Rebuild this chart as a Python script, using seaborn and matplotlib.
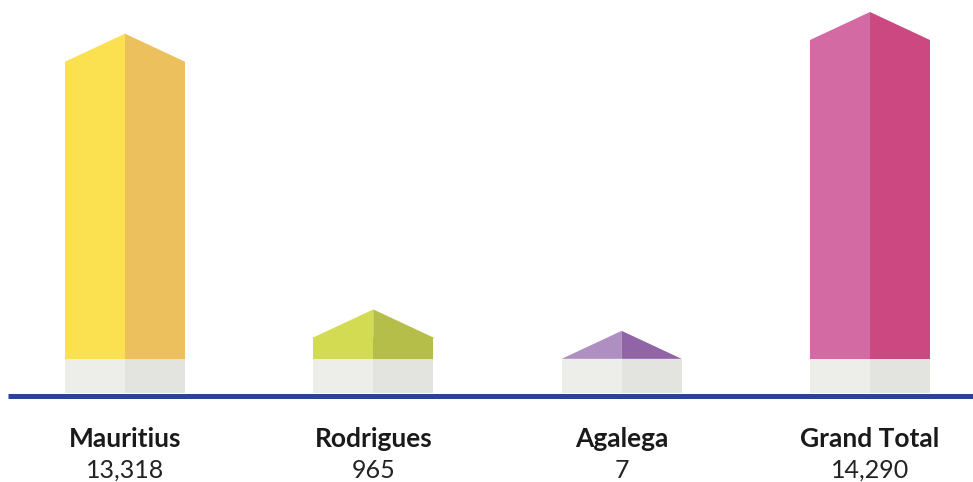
import matplotlib
matplotlib.use("Agg")
import matplotlib.pyplot as plt
from matplotlib.patches import Polygon
import pandas as pd
import seaborn as sns

# data
islands = ["Mauritius", "Rodrigues", "Agalega", "Grand Total"]
population = [13318, 965, 7, 14290]
value_labels = ["13,318", "965", "7", "14,290"]

# colours (left face lighter, right face darker)
light_colors = ["#FBE150", "#D3DB52", "#AF8EC2", "#D46AA3"]
dark_colors = ["#EDC05E", "#B5BE48", "#9064A7", "#CB4880"]
base_light = "#EDEDE9"
base_dark = "#E3E3DF"
axis_blue = "#2B4393"

sns.set_theme(style="white")
plt.rcParams["font.family"] = ["Lato", "DejaVu Sans"]

W, H = 973, 482
fig = plt.figure(figsize=(W / 100, H / 100), dpi=100)
ax = fig.add_axes([0, 0, 1, 1])

px = 319 / max(population)   # pixels per unit of value
base_top = 359               # pixel row where the bodies start

def yv(p):
    return (base_top - p) / px

def xl(p):
    return (p - 125) / 248.33

df = pd.DataFrame({
    "island": islands * 2,
    "side": ["left"] * 4 + ["right"] * 4,
    "value": population * 2,
})

sns.barplot(data=df, x="island", y="value", hue="side", order=islands,
            hue_order=["left", "right"], dodge=True, width=0.483, gap=0,
            legend=False, errorbar=None, linewidth=0, ax=ax)

base_h = 34 / px
roof_h = 28 / px
overlap = 1.5 / px

for side, cont in enumerate(ax.containers[:2]):
    cols = light_colors if side == 0 else dark_colors
    for i, bar in enumerate(cont):
        bar.set_facecolor(cols[i])
        bar.set_edgecolor("none")
        x, w, v = bar.get_x(), bar.get_width(), bar.get_height()
        # grey plinth
        ax.bar(x, base_h, width=w, bottom=-base_h, align="edge", linewidth=0,
               color=base_light if side == 0 else base_dark)
        # roof half, dipping a little into the body to hide the seam
        lo = v - overlap if v > overlap else v
        if side == 0:
            pts = [(x, lo), (x, v), (x + w, v + roof_h), (x + w, lo)]
        else:
            pts = [(x, lo), (x, v + roof_h), (x + w, v), (x + w, lo)]
        ax.add_patch(Polygon(pts, closed=True, facecolor=cols[i],
                             edgecolor="none", zorder=3))

# ground line
ax.plot([xl(8), xl(973)], [yv(395.5)] * 2, color=axis_blue, lw=5 * 0.72,
        solid_capstyle="butt")

for i, name in enumerate(islands):
    ax.text(i, yv(439), name, ha="center", va="center", fontsize=19,
            fontweight="bold", color="#1a1a1a")
    ax.text(i, yv(470), value_labels[i], ha="center", va="center", fontsize=18,
            fontweight="normal", color="#222222")

ax.set_xlim(xl(0), xl(W))
ax.set_ylim(yv(H), yv(0))
ax.axis("off")

fig.savefig("out.png", dpi=100)
